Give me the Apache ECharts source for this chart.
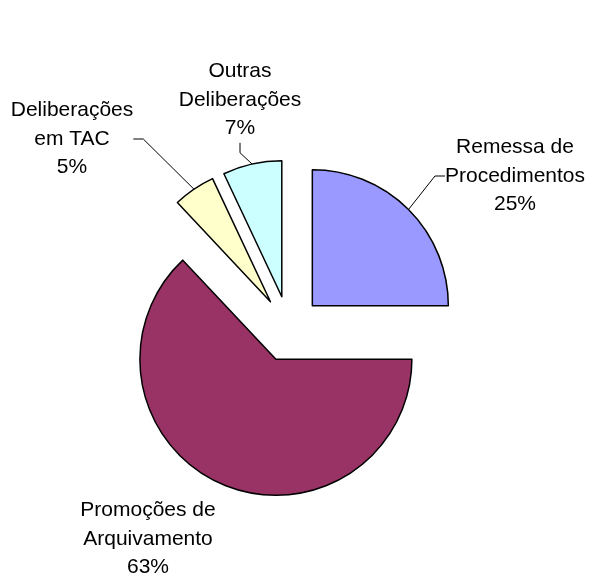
<!DOCTYPE html>
<html>
<head>
<meta charset="utf-8">
<style>
html, body { margin: 0; padding: 0; background: #fff; }
#chart { width: 591px; height: 578px; }
</style>
</head>
<body>
<div id="chart"></div>
<script src="https://cdn.jsdelivr.net/npm/echarts@6/dist/echarts.min.js"></script>
<script>
// fatias no sentido horario a partir das 12h
var nomes = ['Remessa de\nProcedimentos', 'Promoções de\nArquivamento', 'Deliberações\nem TAC', 'Outras\nDeliberações'];
var valores = [25, 63, 5, 7];
var cores = ['#9999FF', '#993366', '#FFFFCC', '#CCFFFF'];
// centro de cada rotulo
var rotuloX = [515, 148, 72, 240];
var rotuloY = [176, 539, 139, 100];

var centro = [289, 329];
var raio = 136;
var destaque = 33; // deslocamento das fatias (pizza explodida)

var chart = echarts.init(document.getElementById('chart'));

var total = 0;
for (var i = 0; i < valores.length; i++) total += valores[i];

// uma serie por fatia, cada uma com o centro deslocado na direcao da fatia
var series = [];
var acum = 0;
for (var k = 0; k < valores.length; k++) {
    var meio = (acum + valores[k] / 2) / total * 2 * Math.PI;
    acum += valores[k];
    var dados = [];
    for (var j = 0; j < valores.length; j++) {
        var visivel = j == k;
        dados.push({
            name: nomes[j],
            value: valores[j],
            itemStyle: visivel ? { color: cores[j], borderColor: '#000', borderWidth: 1.5 }
                               : { color: 'rgba(0,0,0,0)', borderWidth: 0 },
            label: { show: visivel },
            labelLine: { show: visivel && j != 1 }
        });
    }
    series.push({
        type: 'pie',
        center: [centro[0] + destaque * Math.sin(meio), centro[1] - destaque * Math.cos(meio)],
        radius: raio,
        startAngle: 90,
        clockwise: true,
        avoidLabelOverlap: false,
        percentPrecision: 0,
        silent: true,
        data: dados,
        emphasis: { disabled: true },
        label: {
            position: 'outside',
            formatter: '{b}\n{d}%',
            fontFamily: 'Liberation Sans, Arial, sans-serif',
            fontSize: 21,
            lineHeight: 28.5,
            color: '#000'
        },
        labelLine: {
            lineStyle: { color: '#000', width: 1 },
            length: 15,
            length2: 10
        },
        labelLayout: function (p) {
            return {
                x: rotuloX[p.dataIndex],
                y: rotuloY[p.dataIndex],
                align: 'center',
                verticalAlign: 'middle'
            };
        }
    });
}

chart.setOption({ animation: false, series: series });
</script>
</body>
</html>
